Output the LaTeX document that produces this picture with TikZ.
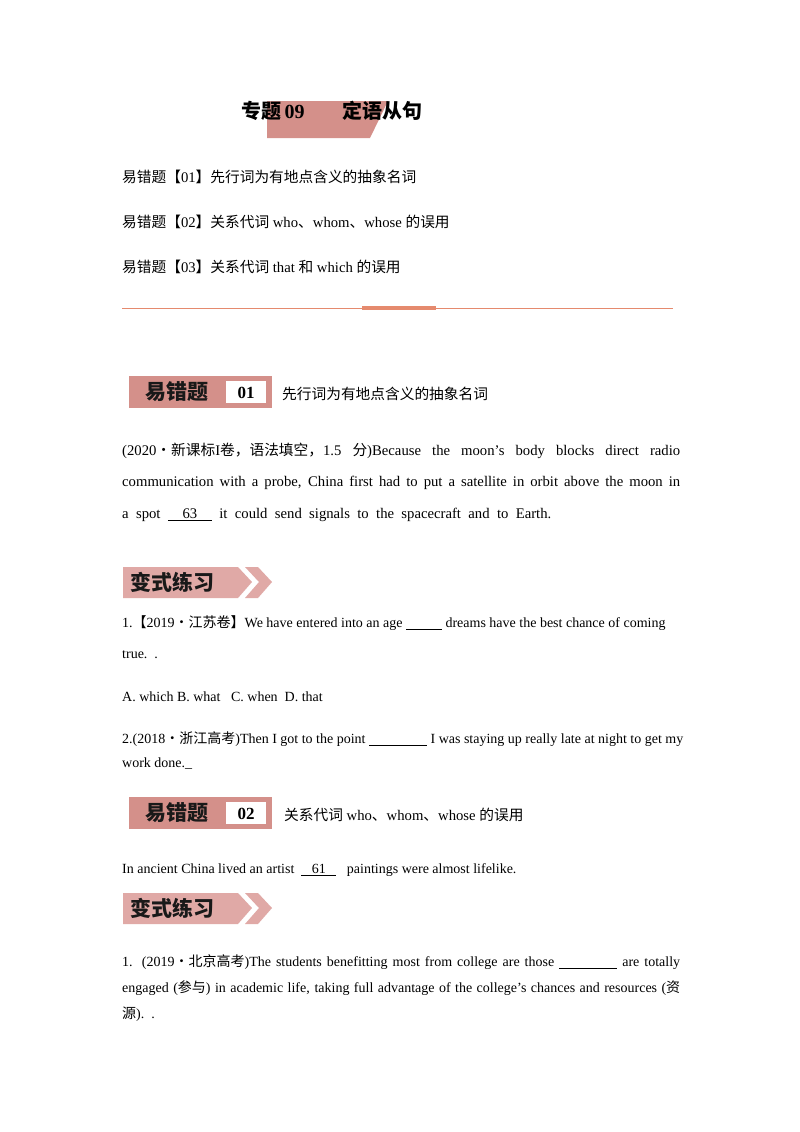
\documentclass[tikz,border=0pt]{standalone}
\usepackage{fontspec}
\setmainfont{Liberation Serif}
\newfontfamily\cjk{Noto Sans CJK SC}
\definecolor{pk}{HTML}{D4908A}
\definecolor{ln}{HTML}{E58A6E}
\definecolor{ar}{HTML}{E0A9A6}
\begin{document}
\begin{tikzpicture}[x=1pt,y=-1pt,
  t/.style={anchor=west,inner sep=0,font=\fontsize{14.7}{17}\selectfont},
  ts/.style={anchor=west,inner sep=0,font=\fontsize{14}{17}\selectfont},
  bt/.style={font=\cjk\bfseries\fontsize{21}{24}\selectfont,inner sep=0,text=black!90}]
\useasboundingbox[fill=white] (0,0) rectangle (800,1132);
% title
\fill[pk] (267,101) -- (388,101) -- (370,138) -- (267,138) -- cycle;
\node[anchor=west,inner sep=0,font=\bfseries\fontsize{20}{24}\selectfont] (tt) at (241,111) {{\cjk 专题}\,09};
\node[anchor=west,inner sep=0,font=\cjk\bfseries\fontsize{20}{24}\selectfont] (tt2) at (342,111) {定语从句};
\node[t] (l1) at (122,177) {{\cjk 易错题【}01{\cjk 】先行词为有地点含义的抽象名词}};
\node[t] (l2) at (122,222) {{\cjk 易错题【}02{\cjk 】关系代词} who{\cjk 、}whom{\cjk 、}whose {\cjk 的误用}};
\node[t] (l3) at (122,267) {{\cjk 易错题【}03{\cjk 】关系代词} that {\cjk 和} which {\cjk 的误用}};
\draw[ln,line width=0.8pt] (122,308) -- (673,308);
\draw[ln,line width=4pt] (362,308) -- (436,308);
% banner 01
\fill[pk] (129,376) rectangle (272,408);
\fill[white] (226,381) rectangle (266,403);
\node[bt] (b1) at (177,392) {易错题};
\node[font=\bfseries\fontsize{17}{19}\selectfont,inner sep=0] (n1) at (246,393) {01};
\node[t] (h1) at (282,394) {{\cjk 先行词为有地点含义的抽象名词}};
\node[t] (p1) at (122,451) {\makebox[558pt][s]{(2020{\cjk ·新课标}I{\cjk 卷，语法填空，}1.5 {\cjk 分}){Because} the moon’s body blocks direct radio}};
\node[t] (p2) at (122,483) {\makebox[558pt][s]{communication with a probe, China first had to put a satellite in orbit above the moon in}};
\node[t] (p3) at (122,515) {a\ \ spot\ \ \underline{\ \ \ \ 63\ \ \ \ }\ \ it\ \ could\ \ send\ \ signals\ \ to\ \ the\ \ spacecraft\ \ and\ \ to\ \ Earth.};
% banner practice
\fill[ar] (123,567) -- (238,567) -- (252,582) -- (238,598) -- (123,598) -- cycle;
\fill[ar] (245,567) -- (258,567) -- (272,582) -- (258,598) -- (245,598) -- (259,582) -- cycle;
\node[bt] (b2) at (172,582) {变式练习};
\node[ts] (q1) at (122,623) {1.{\cjk 【}2019{\cjk ·江苏卷】}We have entered into an age \underline{\hspace{36pt}} dreams have the best chance of coming};
\node[ts] (q1b) at (122,655) {true.\ \ .};
\node[ts] (q1c) at (122,697) {A. which B. what\ \ \ C. when\ \ D. that};
\node[ts] (q2) at (122,739) {2.(2018{\cjk ·浙江高考}){Then} I got to the point \underline{\hspace{58pt}} I was staying up really late at night to get my};
\node[ts] (q2b) at (122,764) {work done.\_};
% banner 02
\fill[pk] (129,797) rectangle (272,829);
\fill[white] (226,802) rectangle (266,824);
\node[bt] (b3) at (177,813) {易错题};
\node[font=\bfseries\fontsize{17}{19}\selectfont,inner sep=0] (n2) at (246,814) {02};
\node[t] (h2) at (284,815) {{\cjk 关系代词} who{\cjk 、}whom{\cjk 、}whose {\cjk 的误用}};
\node[ts] (r1) at (122,870) {In ancient China lived an artist \ \underline{\ \ \ 61\ \ \ }\ \ \ paintings were almost lifelike.};
\fill[ar] (123,893) -- (238,893) -- (252,908) -- (238,924) -- (123,924) -- cycle;
\fill[ar] (245,893) -- (258,893) -- (272,908) -- (258,924) -- (245,924) -- (259,908) -- cycle;
\node[bt] (b4) at (172,908) {变式练习};
\node[ts] (s1) at (122,962) {\makebox[558pt][s]{1. (2019{\cjk ·北京高考}){The} students benefitting most from college are those \underline{\hspace{58pt}} are totally}};
\node[ts] (s2) at (122,988) {\makebox[558pt][s]{engaged ({\cjk 参与}) in academic life, taking full advantage of the college's chances and resources ({\cjk 资}}};
\node[ts] (s3) at (122,1014) {{\cjk 源}).\ \ .};
\end{tikzpicture}
\end{document}
